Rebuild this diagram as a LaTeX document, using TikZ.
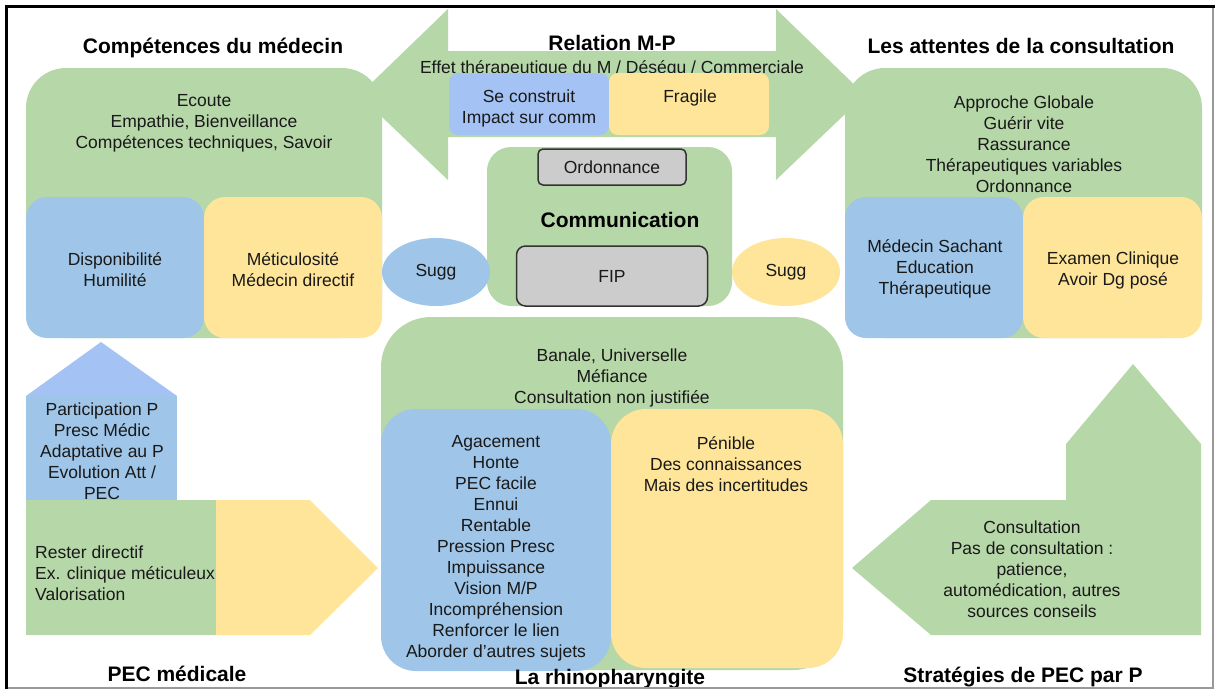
\documentclass[tikz,border=0pt]{standalone}
\usepackage{fontspec}
\setmainfont{Liberation Sans}
\usetikzlibrary{shapes.geometric}
\definecolor{vert}{HTML}{B6D7A8}
\definecolor{bleu}{HTML}{9FC5E8}
\definecolor{lavande}{HTML}{A4C2F4}
\definecolor{jaune}{HTML}{FFE599}
\definecolor{gris}{HTML}{CCCCCC}
\tikzset{
	txt/.style={font=\fontsize{17.5}{21}\selectfont, align=center, inner sep=0pt, text=black!90},
	titre/.style={font=\bfseries\fontsize{21}{25}\selectfont, inner sep=0pt, anchor=base},
	cadre/.style={draw=black!80, line width=1.5pt, fill=gris, rounded corners=#1, inner sep=0pt}
}

\begin{document}
\begin{tikzpicture}[x=1pt, y=-1pt]
		%%%%% START %%%%%
		\useasboundingbox[fill=white] (0, 0) rectangle (1215, 689);
		
		% relation M-P
		\fill[vert] (359, 95) -- (448, 9) -- (448, 51) -- (776, 51) -- (776, 9) -- (865, 95) -- (776, 180) -- (776, 137) -- (448, 137) -- (448, 180) -- cycle;
		\node[titre] (relation) at (612, 50) {Relation M-P};
		\node[txt, anchor=base] (effet) at (612, 73) {Effet thérapeutique du M / Déséqu / Commerciale};
		\fill[lavande, rounded corners=9pt] (449, 73) rectangle (609, 135);
		\fill[jaune, rounded corners=9pt] (609, 73) rectangle (769, 135);
		\node[txt] (construit) at (529, 108) {Se construit\\Impact sur comm};
		\node[txt] (fragile) at (690, 98) {Fragile};
		
		% competences du medecin
		\node[titre] (competences) at (213, 53.5) {Compétences du médecin};
		\fill[vert, rounded corners=40pt] (26, 68) rectangle (382, 338);
		\fill[bleu, rounded corners=21pt] (26, 197) rectangle (204, 338);
		\fill[jaune, rounded corners=21pt] (204, 197) rectangle (382, 338);
		\node[txt] (ecoute) at (204, 123) {Ecoute\\Empathie, Bienveillance\\Compétences techniques, Savoir};
		\node[txt] (dispo) at (115, 270) {Disponibilité\\Humilité};
		\node[txt] (meticul) at (293, 270) {Méticulosité\\Médecin directif};
		
		% attentes de la consultation
		\node[titre] (attentes) at (1021, 53.5) {Les attentes de la consultation};
		\fill[vert, rounded corners=40pt] (845, 68) rectangle (1202, 338);
		\fill[bleu, rounded corners=21pt] (845, 197) rectangle (1023, 338);
		\fill[jaune, rounded corners=21pt] (1023, 197) rectangle (1202, 338);
		\node[txt] (approche) at (1024, 144) {Approche Globale\\Guérir vite\\Rassurance\\Thérapeutiques variables\\Ordonnance};
		\node[txt] (sachant) at (935, 269) {Médecin Sachant\\Education\\Thérapeutique};
		\node[txt] (examen) at (1113, 270) {Examen Clinique\\Avoir Dg posé};
		
		% communication
		\fill[vert, rounded corners=24pt] (487, 147) rectangle (732, 306);
		\node[txt, cadre=5pt, minimum width=148pt, minimum height=36pt] (ordo) at (612, 167) {Ordonnance};
		\node[titre] (comm) at (620, 227) {Communication};
		\node[txt, cadre=9pt, minimum width=191pt, minimum height=60pt] (fip) at (612, 276) {FIP};
		\node[txt, ellipse, fill=bleu, minimum width=108pt, minimum height=68pt] (suggA) at (436, 272) {Sugg};
		\node[txt, ellipse, fill=jaune, minimum width=108pt, minimum height=68pt] (suggB) at (786, 272) {Sugg};
		
		% la rhinopharyngite
		\fill[vert, rounded corners=50pt] (381, 317) rectangle (843, 670);
		\fill[bleu, rounded corners=35pt] (381, 409) rectangle (611, 671);
		\fill[jaune, rounded corners=35pt] (611, 409) rectangle (843, 668);
		\node[txt] (banale) at (612, 378) {Banale, Universelle\\Méfiance\\Consultation non justifiée};
		\node[txt] (agacement) at (496, 548) {Agacement\\Honte\\PEC facile\\Ennui\\Rentable\\Pression Presc\\Impuissance\\Vision M/P\\Incompréhension\\Renforcer le lien\\Aborder d’autres sujets};
		\node[txt] (penible) at (726, 464) {Pénible\\Des connaissances\\Mais des incertitudes};
		\node[titre] (rhino) at (610, 684) {La rhinopharyngite};
		
		% PEC medicale
		\fill[lavande] (26, 396) -- (101, 342) -- (177, 396) -- cycle;
		\fill[bleu] (26, 396) rectangle (177, 501);
		\node[txt] (particip) at (102, 451) {Participation P\\Presc Médic\\Adaptative au P\\Evolution Att /\\PEC};
		\fill[jaune] (26, 500) -- (310, 500) -- (378, 568) -- (310, 635) -- (26, 635) -- cycle;
		\fill[vert] (26, 500) rectangle (216, 635);
		\node[txt, align=left, anchor=west] (rester) at (35, 573) {Rester directif\\Ex. clinique méticuleux\\Valorisation};
		\node[titre] (pec) at (177, 681) {PEC médicale};
		
		% strategies de PEC par P
		\fill[vert] (852, 568) -- (931, 500) -- (1066, 500) -- (1066, 444) -- (1133, 364) -- (1201, 444) -- (1201, 635) -- (931, 635) -- cycle;
		\node[txt] (consult) at (1032, 569) {Consultation\\Pas de consultation :\\patience,\\automédication, autres\\sources conseils};
		\node[titre] (strat) at (1023, 682) {Stratégies de PEC par P};
		
		% bord
		\draw[black!40, line width=1.5pt] (1213, 8) -- (1213, 688) -- (8, 688);
		\draw[line width=3pt] (6.5, 689) -- (6.5, 6.5) -- (1215, 6.5);
		
		%%%%% END %%%%%
	\end{tikzpicture}
\end{document}
